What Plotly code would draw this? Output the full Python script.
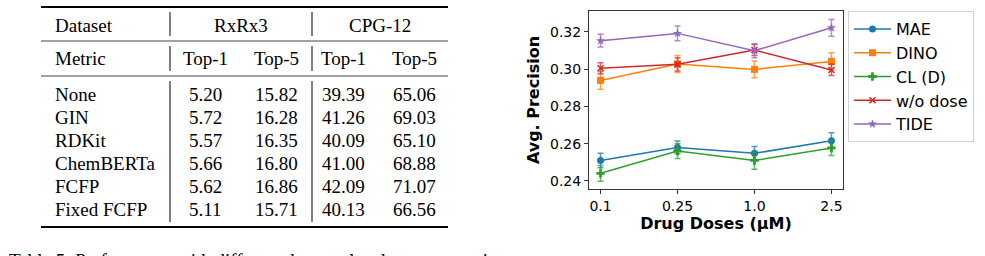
import plotly.graph_objects as go

W, H = 985, 256

# ---------------- table data ----------------
table_methods = ["None", "GIN", "RDKit", "ChemBERTa", "FCFP", "Fixed FCFP"]
rxrx3_top1 = ["5.20", "5.72", "5.57", "5.66", "5.62", "5.11"]
rxrx3_top5 = ["15.82", "16.28", "16.35", "16.80", "16.86", "15.71"]
cpg12_top1 = ["39.39", "41.26", "40.09", "41.00", "42.09", "40.13"]
cpg12_top5 = ["65.06", "69.03", "65.10", "68.88", "71.07", "66.56"]
header_dataset = ["Dataset", "RxRx3", "CPG-12"]
header_metric = ["Metric", "Top-1", "Top-5", "Top-1", "Top-5"]
caption = "Table 5: Performance with different drug molecule representations."

# ---------------- chart data ----------------
doses = ["0.1", "0.25", "1.0", "2.5"]
series_names = ["MAE", "DINO", "CL (D)", "w/o dose", "TIDE"]
mae = [0.2510, 0.2580, 0.2548, 0.2616]
mae_err = [0.0039, 0.0034, 0.0037, 0.0042]
dino = [0.2939, 0.3027, 0.2998, 0.3041]
dino_err = [0.0048, 0.0045, 0.0045, 0.0046]
cl_d = [0.2441, 0.2560, 0.2510, 0.2577]
cl_d_err = [0.0042, 0.0040, 0.0047, 0.0041]
wo_dose = [0.3004, 0.3025, 0.3102, 0.2995]
wo_dose_err = [0.0029, 0.0035, 0.0030, 0.0030]
tide = [0.3152, 0.3191, 0.3098, 0.3221]
tide_err = [0.0034, 0.0039, 0.0038, 0.0045]
y_ticks = [0.24, 0.26, 0.28, 0.30, 0.32]

values = [mae, dino, cl_d, wo_dose, tide]
errors = [mae_err, dino_err, cl_d_err, wo_dose_err, tide_err]
colors = ["#1f77b4", "#ff7f0e", "#2ca02c", "#d62728", "#9467bd"]
err_colors = ["rgba(31,119,180,0.75)", "rgba(255,127,14,0.75)", "rgba(44,160,44,0.75)",
              "rgba(214,39,40,0.75)", "rgba(148,103,189,0.75)"]
symbols = ["circle", "square", "cross", "x-thin", "star"]
sizes = [7, 7, 7, 6, 7]


def px(x):
    return x / W


def py(y):
    return 1 - y / H


fig = go.Figure()
for name, v, e, c, ec, s, sz in zip(series_names, values, errors, colors, err_colors, symbols, sizes):
    marker = dict(symbol=s, size=sz, color=c)
    if s == "x-thin":
        marker["line"] = dict(width=1.6, color=c)
    fig.add_trace(go.Scatter(
        x=doses, y=v, name=name, mode="lines+markers",
        line=dict(color=c, width=1.5), marker=marker,
        error_y=dict(type="data", array=e, visible=True, color=ec, thickness=1.5, width=3),
        legendgroup=name,
    ))

serif = "Liberation Serif, Times New Roman, serif"
sans = "DejaVu Sans, sans-serif"
annotations = []
shapes = []


def txt(x, y, s, anchor="center", size=19, fam=serif, bold=False):
    annotations.append(dict(
        x=px(x), y=py(y), xref="paper", yref="paper", text=("<b>%s</b>" % s) if bold else s,
        showarrow=False, xanchor=anchor, yanchor="middle",
        font=dict(family=fam, size=size, color="black"),
    ))


def hline(y, x0, x1, w, color="black"):
    shapes.append(dict(type="line", xref="paper", yref="paper", x0=px(x0), x1=px(x1),
                       y0=py(y), y1=py(y), line=dict(color=color, width=w)))


def vline(x, y0, y1, w=1, color="black"):
    shapes.append(dict(type="line", xref="paper", yref="paper", x0=px(x), x1=px(x),
                       y0=py(y0), y1=py(y1), line=dict(color=color, width=w)))


# table geometry
left, right = 41, 448
label_x = 53
col_x = [205, 276, 343, 414]
group_x = [241, 380]
sep_x = [170, 312]
row_dataset, row_metric = 25, 58
row0, row_step = 94, 23

hline(7, left, right, 1.8)
hline(41, left, right, 1.2, "#444")
hline(76, left, right, 1.2, "#444")
hline(227, left, right, 1.8)
for sx in sep_x:
    vline(sx, 12, 36)
    vline(sx, 46, 71)
    vline(sx, 81, 222)

txt(label_x, row_dataset, header_dataset[0], anchor="left")
txt(group_x[0], row_dataset, header_dataset[1])
txt(group_x[1], row_dataset, header_dataset[2])
txt(label_x, row_metric, header_metric[0], anchor="left")
for cx, m in zip(col_x, header_metric[1:]):
    txt(cx, row_metric, m)

for i, name in enumerate(table_methods):
    yy = row0 + i * row_step
    txt(label_x, yy, name, anchor="left")
    for cx, col in zip(col_x, [rxrx3_top1, rxrx3_top5, cpg12_top1, cpg12_top5]):
        txt(cx, yy, col[i])

annotations.append(dict(
    x=px(7), y=py(248), xref="paper", yref="paper", text=caption, showarrow=False,
    xanchor="left", yanchor="top", font=dict(family=serif, size=19, color="black"),
))

fig.update_layout(
    width=W, height=H, margin=dict(l=0, r=0, t=0, b=0),
    paper_bgcolor="white", plot_bgcolor="white",
    font=dict(family=sans, size=14, color="black"),
    showlegend=True,
    legend=dict(
        x=px(848), y=py(11), xanchor="left", yanchor="top",
        font=dict(family=sans, size=16, color="black"),
        bordercolor="#d3d3d3", borderwidth=1, bgcolor="white",
        tracegroupgap=1, traceorder="normal", itemwidth=37,
    ),
    xaxis=dict(
        domain=[px(589), px(843)], type="category", range=[-0.15, 3.15],
        showline=True, mirror=True, linecolor="#333", linewidth=1,
        ticks="outside", ticklen=4, tickcolor="#333", showgrid=False, zeroline=False,
        tickfont=dict(family=sans, size=14, color="black"),
        title=dict(text="<b>Drug Doses (μM)</b>", standoff=0,
                   font=dict(family=sans, size=16, color="black")),
    ),
    yaxis=dict(
        domain=[py(189), py(11)], range=[0.2357, 0.3311],
        tickvals=y_ticks, tickformat=".2f",
        showline=True, mirror=True, linecolor="#333", linewidth=1,
        ticks="outside", ticklen=4, tickcolor="#333", showgrid=False, zeroline=False,
        tickfont=dict(family=sans, size=14, color="black"),
        title=dict(text="<b>Avg. Precision</b>", standoff=6,
                   font=dict(family=sans, size=16, color="black")),
    ),
    annotations=annotations,
    shapes=shapes,
)

fig.write_html("out.html")
